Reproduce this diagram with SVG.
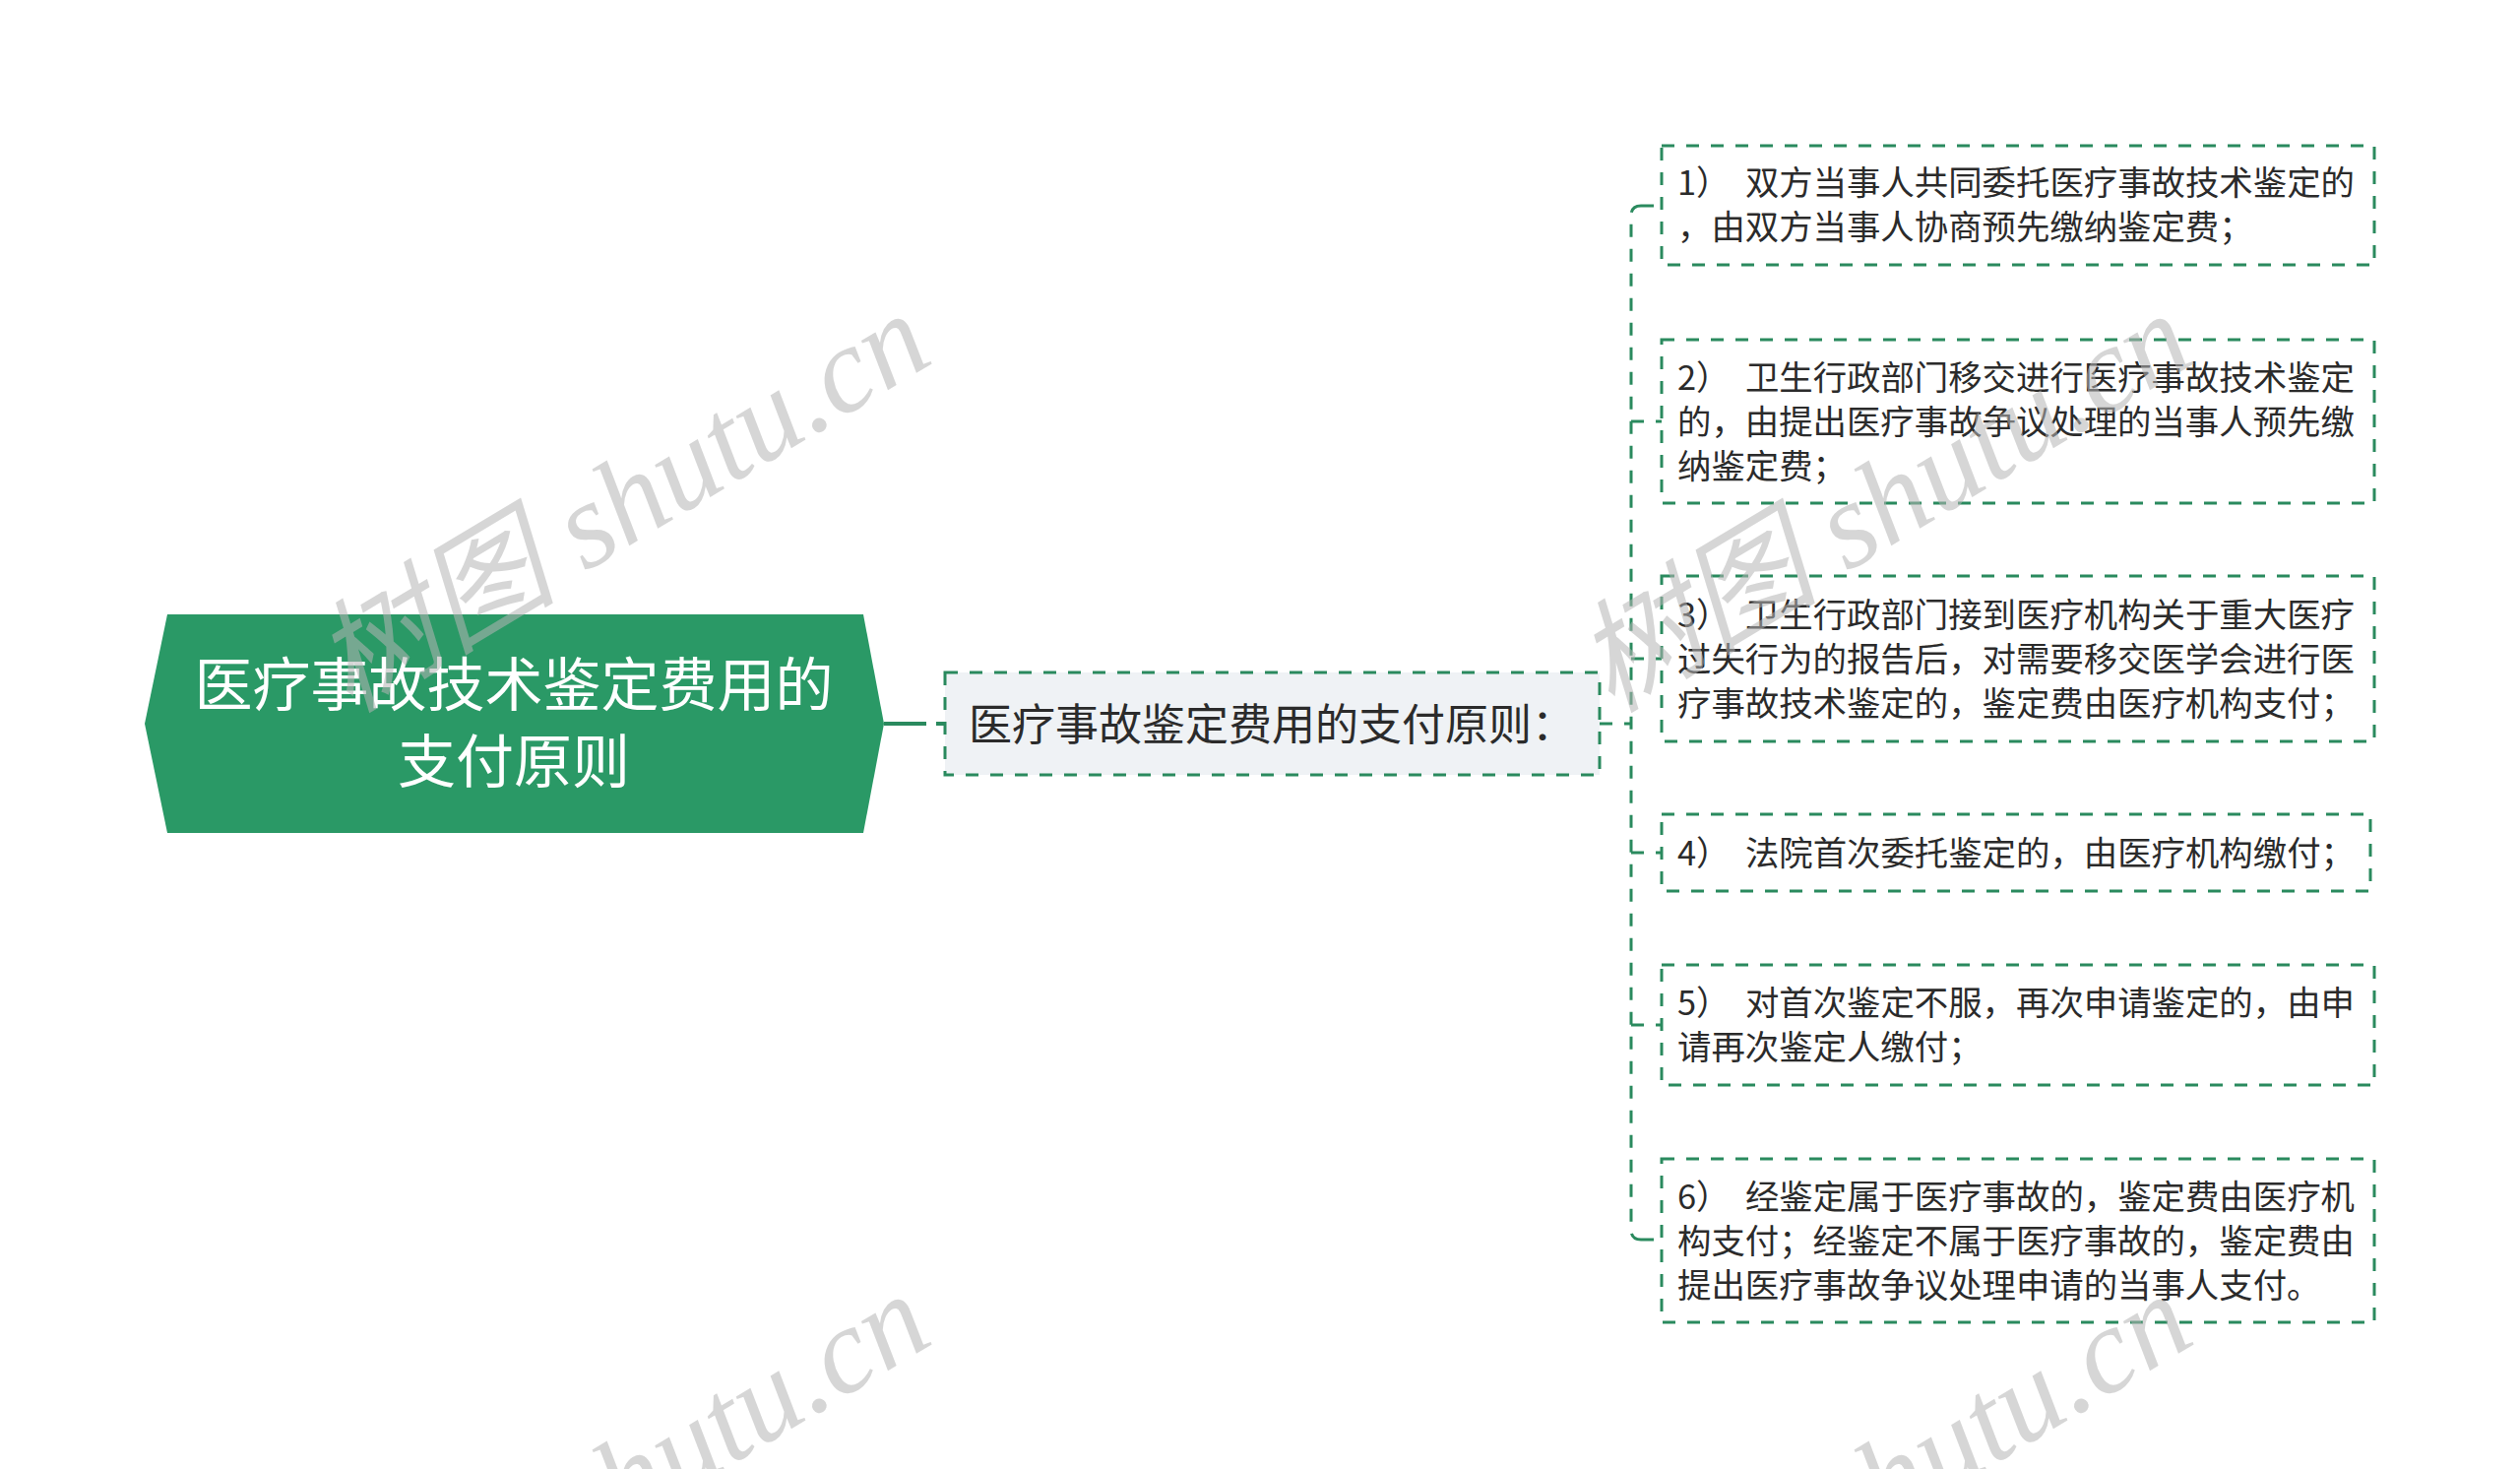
<svg xmlns="http://www.w3.org/2000/svg" width="2560" height="1492" viewBox="0 0 2560 1492">
<style>
.cn{font-family:"Noto Sans CJK SC","Noto Sans",sans-serif;}
.root-t{fill:#ffffff;font-size:59px;text-anchor:middle;}
.mid-t{fill:#2b2b2b;font-size:44px;}
.leaf-t{fill:#2b2b2b;font-size:34.4px;}
.dash{fill:none;stroke:#2a8a5e;stroke-width:3;stroke-dasharray:13 12;}
.leaf{fill:#ffffff;stroke:#2a8a5e;stroke-width:3;stroke-dasharray:13 12;}
.wm{font-family:"Liberation Serif","Noto Sans CJK SC",serif;font-style:italic;font-size:124px;fill:#b4b4b4;fill-opacity:0.55;}
</style>
<rect width="2560" height="1492" fill="#ffffff"/>
<g id="connectors">
  <path d="M898 735 H960" fill="none" stroke="#2a8a5e" stroke-width="4" stroke-dasharray="43 10"/>
  <path class="dash" d="M1625 735 H1657"/>
  <path class="dash" d="M1667 209 Q1657 209 1657 219 V1249 Q1657 1259 1667 1259"/>
  <path class="dash" d="M1667 209 H1688"/>
  <path class="dash" d="M1657 428 H1688"/>
  <path class="dash" d="M1657 669 H1688"/>
  <path class="dash" d="M1657 866 H1688"/>
  <path class="dash" d="M1657 1041 H1688"/>
  <path class="dash" d="M1667 1259 H1688"/>
</g>
<g id="root">
  <polygon points="170,624 877,624 898,735 877,846 170,846 147,735" fill="#2a9966"/>
  <text class="cn root-t" x="522" y="717">医疗事故技术鉴定费用的</text>
  <text class="cn root-t" x="522" y="795">支付原则</text>
</g>
<g id="mid">
  <rect x="960" y="683" width="665" height="104" fill="#eff2f5" stroke="#2a8a5e" stroke-width="3" stroke-dasharray="13 12"/>
  <text class="cn mid-t" x="984" y="752">医疗事故鉴定费用的支付原则：</text>
</g>
<g id="leaf1">
  <rect class="leaf" x="1688" y="148" width="724" height="121"/>
  <text class="cn leaf-t" xml:space="preserve" x="1704" y="198">1）  双方当事人共同委托医疗事故技术鉴定的</text>
  <text class="cn leaf-t" x="1704" y="243">，由双方当事人协商预先缴纳鉴定费；</text>
</g>
<g id="leaf2">
  <rect class="leaf" x="1688" y="345" width="724" height="166"/>
  <text class="cn leaf-t" xml:space="preserve" x="1704" y="396">2）  卫生行政部门移交进行医疗事故技术鉴定</text>
  <text class="cn leaf-t" x="1704" y="441">的，由提出医疗事故争议处理的当事人预先缴</text>
  <text class="cn leaf-t" x="1704" y="486">纳鉴定费；</text>
</g>
<g id="leaf3">
  <rect class="leaf" x="1688" y="585" width="724" height="168"/>
  <text class="cn leaf-t" xml:space="preserve" x="1704" y="637">3）  卫生行政部门接到医疗机构关于重大医疗</text>
  <text class="cn leaf-t" x="1704" y="682">过失行为的报告后，对需要移交医学会进行医</text>
  <text class="cn leaf-t" x="1704" y="727">疗事故技术鉴定的，鉴定费由医疗机构支付；</text>
</g>
<g id="leaf4">
  <rect class="leaf" x="1688" y="827" width="720" height="78"/>
  <text class="cn leaf-t" xml:space="preserve" x="1704" y="879">4）  法院首次委托鉴定的，由医疗机构缴付；</text>
</g>
<g id="leaf5">
  <rect class="leaf" x="1688" y="980" width="724" height="122"/>
  <text class="cn leaf-t" xml:space="preserve" x="1704" y="1031">5）  对首次鉴定不服，再次申请鉴定的，由申</text>
  <text class="cn leaf-t" x="1704" y="1076">请再次鉴定人缴付；</text>
</g>
<g id="leaf6">
  <rect class="leaf" x="1688" y="1177" width="724" height="166"/>
  <text class="cn leaf-t" xml:space="preserve" x="1704" y="1228">6）  经鉴定属于医疗事故的，鉴定费由医疗机</text>
  <text class="cn leaf-t" x="1704" y="1273">构支付；经鉴定不属于医疗事故的，鉴定费由</text>
  <text class="cn leaf-t" x="1704" y="1318">提出医疗事故争议处理申请的当事人支付。</text>
</g>
<g id="watermarks">
  <text class="wm" transform="translate(355,725) rotate(-31)">树图 shutu.cn</text>
  <text class="wm" transform="translate(1637,725) rotate(-31)">树图 shutu.cn</text>
  <text class="wm" transform="translate(355,1721) rotate(-31)">树图 shutu.cn</text>
  <text class="wm" transform="translate(1637,1721) rotate(-31)">树图 shutu.cn</text>
</g>
</svg>
